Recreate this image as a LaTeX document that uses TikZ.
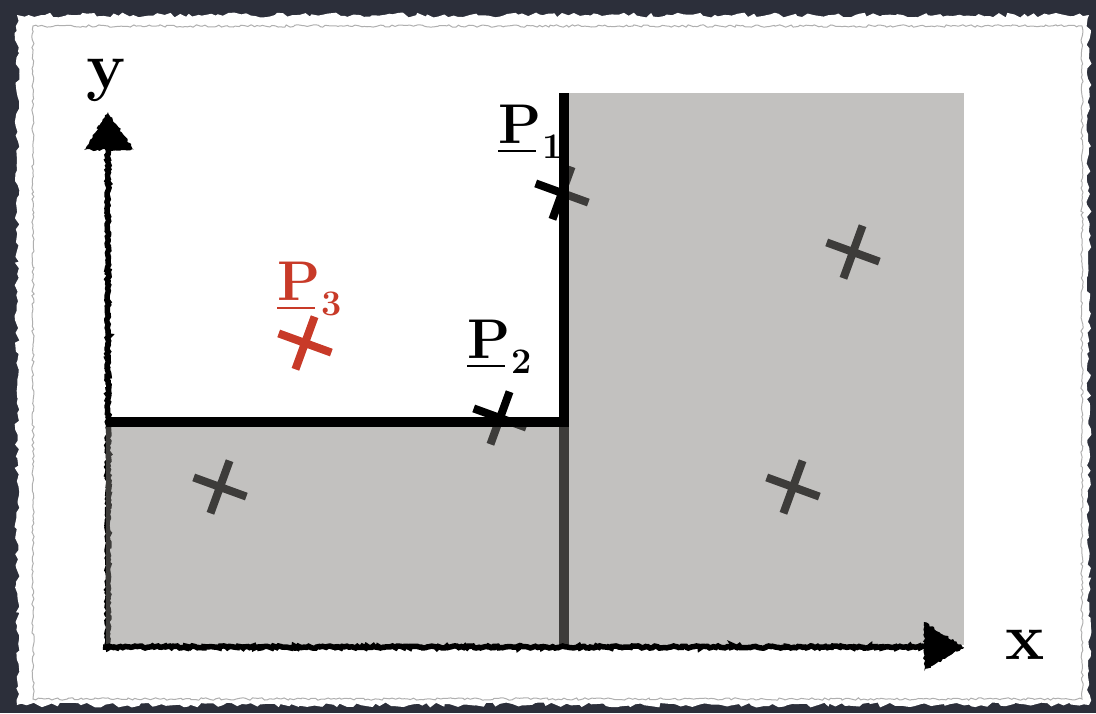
\documentclass[tikz,border=0pt]{standalone}
\usetikzlibrary{decorations.pathmorphing}
\definecolor{bgdark}{RGB}{44,47,58}
\definecolor{shadegrey}{RGB}{129,127,123}
\definecolor{crossred}{RGB}{200,58,40}
\definecolor{edgegrey}{RGB}{175,175,175}
\newcommand{\vlab}[1]{\rlap{\rule[-9pt]{38pt}{1.8pt}}{\fontsize{56}{56}\selectfont\bfseries P}\hspace{1pt}\raisebox{-15pt}{\fontsize{36}{36}\selectfont\bfseries #1}}
\begin{document}
\begin{tikzpicture}[x=1pt,y=-1pt,
  rough/.style={decorate,decoration={random steps,segment length=2pt,amplitude=1.1pt}},
  axisline/.style={line width=5.5pt,rough},
  shade/.style={fill=shadegrey,fill opacity=0.48},
  wall/.style={line width=10pt,miter limit=10},
  xmark/.pic={\draw[line width=8pt,pic actions] (20:-28) -- (20:28) (-70:-28) -- (-70:28);},
  lab/.style={anchor=base west,inner sep=0pt}]
\useasboundingbox (0,0) rectangle (1096,713);
\fill[bgdark] (0,0) rectangle (1096,713);
% torn card
\fill[white,decorate,decoration={random steps,segment length=5pt,amplitude=2.5pt}] (17,15) rectangle (1089,705);
\draw[edgegrey,line width=1pt,decorate,decoration={random steps,segment length=3pt,amplitude=1.2pt}] (33,26) rectangle (1082,699);
% coordinates
\coordinate (O) at (108,647);
\coordinate (ybase) at (108,148);
\coordinate (ytip) at (108,112);
\coordinate (xbase) at (926,647);
\coordinate (xtip) at (964,647);
\coordinate (corner) at (564,422);
\coordinate (wallbot) at (564,645);
\coordinate (walltop) at (564,93);
\coordinate (stepleft) at (108,422);
% elements under the shading
\draw[axisline] (O) -- (ybase);
\draw[line width=10pt] (corner) -- (wallbot);
\pic at (562,193) {xmark};
\pic at (500,418) {xmark};
\pic at (220,487) {xmark};
\pic at (853,252) {xmark};
\pic at (793,487) {xmark};
\pic[crossred] at (305,343) {xmark};
% shaded regions
\fill[shade] (106,427) rectangle (569,645);
\fill[shade] (569,93) rectangle (964,645);
% staircase boundary
\draw[wall] (stepleft) -- (corner) -- (walltop);
% axes on top
\draw[axisline] (103,647) -- (xbase);
\fill[rough] (84,150) -- (ytip) -- (134,150) -- cycle;
\fill[rough] (924,622) -- (xtip) -- (924,671) -- cycle;
% labels
\node (xl) at (1025,645) {\fontsize{66}{66}\selectfont\bfseries x};
\node (yl) at (106,80) {\fontsize{66}{66}\selectfont\bfseries y};
\node[lab] (p1) at (498,143) {\vlab{1}};
\node[lab] (p2) at (467,358) {\vlab{2}};
\node[lab,text=crossred] (p3) at (277,300) {\vlab{3}};
\end{tikzpicture}
\end{document}
